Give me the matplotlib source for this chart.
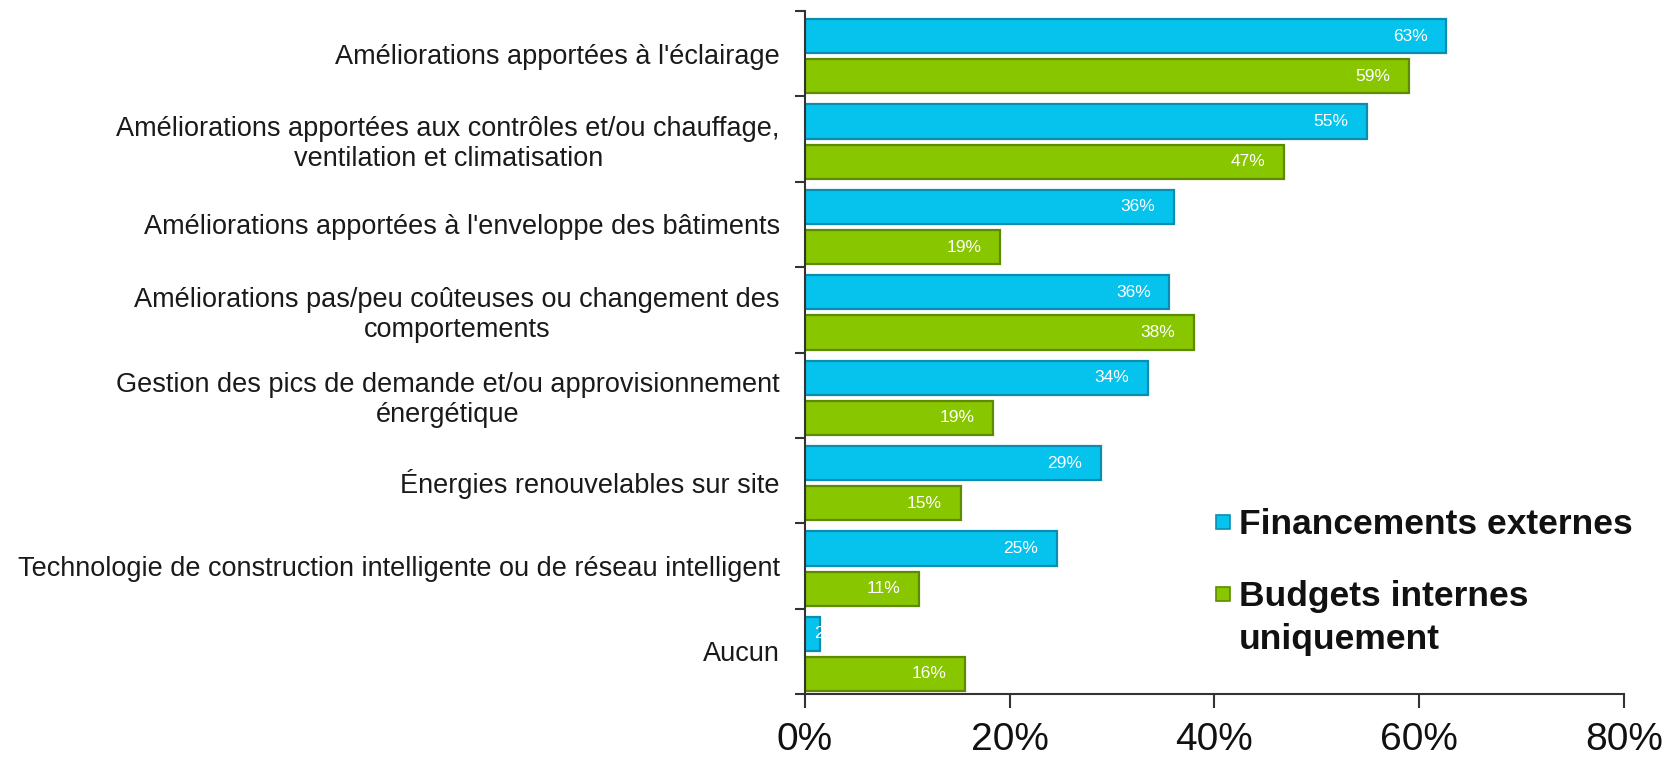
import matplotlib
matplotlib.use("Agg")
import matplotlib.pyplot as plt
from matplotlib.patches import Rectangle
import numpy as np

categories = [
    "Améliorations apportées à l'éclairage",
    "Améliorations apportées aux contrôles et/ou chauffage,\nventilation et climatisation",
    "Améliorations apportées à l'enveloppe des bâtiments",
    "Améliorations pas/peu coûteuses ou changement des\ncomportements",
    "Gestion des pics de demande et/ou approvisionnement\nénergétique",
    "Énergies renouvelables sur site",
    "Technologie de construction intelligente ou de réseau intelligent",
    "Aucun",
]
externes = [62.6, 54.9, 36.0, 35.6, 33.5, 28.9, 24.6, 1.5]
externes_labels = ["63%", "55%", "36%", "36%", "34%", "29%", "25%", "2%"]
internes = [59.0, 46.8, 19.1, 38.0, 18.4, 15.2, 11.1, 15.6]
internes_labels = ["59%", "47%", "19%", "38%", "19%", "15%", "11%", "16%"]
series_names = ["Financements externes", "Budgets internes\nuniquement"]
xticks = [0, 20, 40, 60, 80]
xtick_labels = ["0%", "20%", "40%", "60%", "80%"]

plt.rcParams['font.family'] = ['Liberation Sans', 'DejaVu Sans']

blue, blue_edge = "#05C3EC", "#0A8DB0"
green, green_edge = "#88C600", "#5E8A00"

fig = plt.figure(figsize=(16.71, 7.58), dpi=100)
ax = fig.add_axes([0.4817, 0.0844, 0.9719 - 0.4817, 0.9855 - 0.0844])

y = np.arange(len(categories))
h = 0.40
off = 0.235
shift = 0.03
b1 = ax.barh(y - off + shift, externes, height=h, color=blue, edgecolor=blue_edge, linewidth=1.6)
b2 = ax.barh(y + off + shift, internes, height=h, color=green, edgecolor=green_edge, linewidth=1.6)

for bars, labels in ((b1, externes_labels), (b2, internes_labels)):
    for bar, lab in zip(bars, labels):
        x = bar.get_width()
        t = ax.text(x - 1.8, bar.get_y() + bar.get_height() / 2, lab, ha='right', va='center',
                    color='white', fontsize=12.5)
        if x < 6:
            t.set_ha('left')
            t.set_x(x - 0.6)
            t.set_clip_path(bar)

ax.set_xlim(0, 80)
ax.set_ylim(len(categories) - 0.5, -0.5)
ax.set_xticks(xticks)
ax.set_xticklabels(xtick_labels, fontsize=28, color='#111111')
ax.set_yticks(y)
ax.set_yticklabels(categories, fontsize=19.5, color='#1a1a1a', multialignment='center')
ax.set_yticks(np.arange(len(categories) + 1) - 0.5, minor=True)
ax.tick_params(axis='y', which='major', length=0, pad=18)
ax.tick_params(axis='y', which='minor', length=7, width=1.5, color='#333333', direction='out')
ax.tick_params(axis='x', which='major', length=10, width=1.5, color='#333333', direction='out', pad=10)
for s in ('top', 'right'):
    ax.spines[s].set_visible(False)
for s in ('left', 'bottom'):
    ax.spines[s].set_color('#333333')
    ax.spines[s].set_linewidth(1.5)

# legend drawn manually
W, H = fig.get_size_inches() * fig.dpi
sq = 14
leg_y = [1 - 522 / H, 1 - 594 / H]
for name, fc, ec, yy in zip(series_names, (blue, green), (blue_edge, green_edge), leg_y):
    fig.patches.append(Rectangle((1216 / W, yy - sq / 2 / H), sq / W, sq / H, transform=fig.transFigure,
                                 facecolor=fc, edgecolor=ec, linewidth=1.2))
    first_line_h = 25.5 * 1.39 * 1.2
    fig.text(1239 / W, yy + (first_line_h / 2 - 7.5) / H, name, fontsize=25.5, fontweight='bold', va='top',
             ha='left', color='#111111', linespacing=1.37)

fig.savefig("out.png", dpi=100)
